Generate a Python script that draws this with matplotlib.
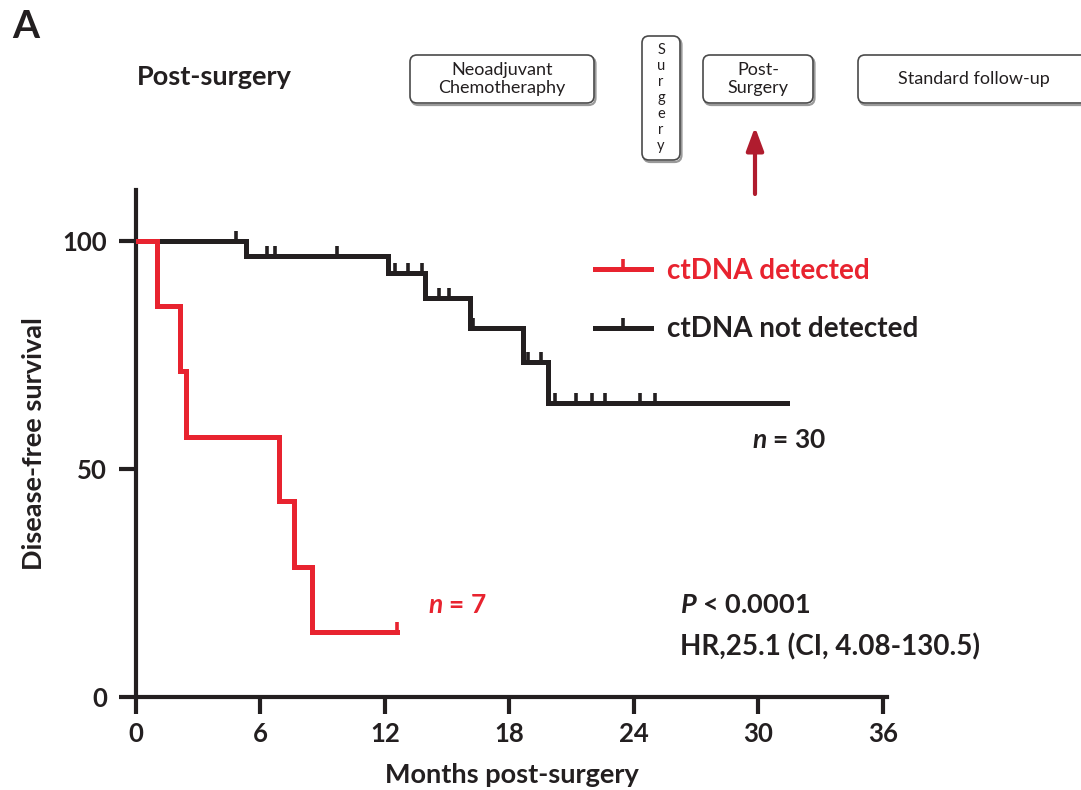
import numpy as np
import matplotlib
matplotlib.use("Agg")
import matplotlib.pyplot as plt
from matplotlib.lines import Line2D
from matplotlib.patches import FancyBboxPatch, FancyArrowPatch

plt.rcParams["font.family"] = ["Lato", "DejaVu Sans"]
plt.rcParams["mathtext.fontset"] = "custom"
plt.rcParams["mathtext.it"] = "Lato:italic:bold"
plt.rcParams["mathtext.rm"] = "Lato:bold"

# Kaplan-Meier steps (months, % disease-free)
detected_times = [0, 1.0, 2.1, 2.4, 6.9, 7.6, 8.5]
detected_surv = [100, 85.7, 71.4, 57.1, 42.9, 28.6, 14.3]
detected_end = 12.6
detected_censor = [12.6]

notdet_times = [0, 5.3, 12.15, 13.95, 16.1, 18.65, 19.85]
notdet_surv = [100, 96.7, 93.0, 87.6, 80.9, 73.4, 64.4]
notdet_end = 31.4
notdet_censor = [4.8, 6.3, 6.7, 9.7, 12.5, 13.1, 13.8, 14.6, 15.1, 16.25,
                 18.9, 19.5, 20.2, 21.2, 22.0, 22.6, 24.3, 25.0]

x_ticks = [0, 6, 12, 18, 24, 30, 36]
y_ticks = [0, 50, 100]

RED = "#e8232f"
INK = "#231f20"
ARROW = "#b01c2e"


def censor_levels(times, surv, censor):
    idx = np.searchsorted(times, censor, side="right") - 1
    return np.asarray(surv)[idx]


def draw_curve(ax, times, surv, end, censor, color, z):
    xs = list(times) + [end]
    ys = list(surv) + [surv[-1]]
    ax.step(xs, ys, where="post", color=color, lw=3.6, zorder=z,
            solid_joinstyle="miter")
    ax.plot(censor, censor_levels(times, surv, censor), ls="none",
            marker=2, ms=7, mew=2.6, color=color, zorder=z)


fig = plt.figure(figsize=(10.81, 7.9), dpi=100)

# overlay in pixel units for the header diagram
ov = fig.add_axes([0, 0, 1, 1])
ov.set_xlim(0, 1081)
ov.set_ylim(790, 0)
ov.axis("off")


def box(x0, y0, x1, y1, txt, fs=13, ls=1.1):
    shadow = FancyBboxPatch((x0 + 1.5, y0 + 2), x1 - x0, y1 - y0,
                            boxstyle="round,pad=0,rounding_size=7",
                            fc="none", ec="#9a9a9a", lw=1.6, zorder=1)
    ov.add_patch(shadow)
    p = FancyBboxPatch((x0, y0), x1 - x0, y1 - y0,
                       boxstyle="round,pad=0,rounding_size=7",
                       fc="white", ec="#4a4a4a", lw=1.2, zorder=2)
    ov.add_patch(p)
    ov.text((x0 + x1) / 2, (y0 + y1) / 2, txt, ha="center", va="center",
            fontsize=fs, color=INK, linespacing=ls, zorder=3)


box(410, 55, 594, 103, "Neoadjuvant\nChemotheraphy")
box(642, 36, 680, 160, "S\nu\nr\ng\ne\nr\ny", fs=10.5, ls=1.17)
box(703, 55, 813, 103, "Post-\nSurgery")
box(858, 55, 1090, 103, "Standard follow-up")

ov.add_patch(FancyArrowPatch((755, 194), (755, 127),
                             arrowstyle="-|>,head_width=2.6,head_length=7",
                             color=ARROW, lw=3, mutation_scale=2,
                             shrinkA=0, shrinkB=0))

ov.text(12, 27, "A", fontsize=28, fontweight="bold", color=INK,
        ha="left", va="center")
ov.text(137, 77, "Post-surgery", fontsize=19.5, fontweight="bold", color=INK,
        ha="left", va="center")

# survival plot
ax = fig.add_axes([136 / 1081, 1 - 697 / 790, 751 / 1081, 507 / 790])
ax.patch.set_alpha(0)
draw_curve(ax, notdet_times, notdet_surv, notdet_end, notdet_censor, INK, 3)
draw_curve(ax, detected_times, detected_surv, detected_end, detected_censor,
           RED, 4)

ax.set_xlim(0, 36.2)
ax.set_ylim(0, 111.2)
ax.set_xticks(x_ticks)
ax.set_yticks(y_ticks)
for s in ["top", "right"]:
    ax.spines[s].set_visible(False)
for s in ["left", "bottom"]:
    ax.spines[s].set_linewidth(3)
    ax.spines[s].set_color(INK)
ax.tick_params(length=12, width=3, color=INK, labelsize=18.5,
               labelcolor=INK)
ax.tick_params(axis="x", pad=6)
ax.tick_params(axis="y", pad=9)
for lab in ax.get_xticklabels() + ax.get_yticklabels():
    lab.set_fontweight("bold")
ax.set_xlabel("Months post-surgery", fontsize=19.5, fontweight="bold",
              color=INK, labelpad=12)
ax.set_ylabel("Disease-free survival", fontsize=19.5, fontweight="bold",
              color=INK, labelpad=12)

handles = [
    Line2D([], [], color=RED, lw=3.6, marker=2, ms=7, mew=2.6),
    Line2D([], [], color=INK, lw=3.6, marker=2, ms=7, mew=2.6),
]
leg = ax.legend(handles, ["ctDNA detected", "ctDNA not detected"],
                loc="upper left", bbox_to_anchor=(595 / 1081, 1 - 258 / 790),
                bbox_transform=fig.transFigure, frameon=False, borderpad=0,
                borderaxespad=0, handlelength=2.0, handletextpad=0.6,
                labelspacing=1.16, numpoints=1,
                prop={"size": 20, "weight": "bold"})
leg.get_texts()[0].set_color(RED)
leg.get_texts()[1].set_color(INK)

ov.text(752, 440, "$n$ = 30", fontsize=19, fontweight="bold", color=INK,
        ha="left", va="center")
ov.text(428, 605, "$n$ = 7", fontsize=19, fontweight="bold", color=RED,
        ha="left", va="center")
ov.text(680, 605, "$P$ < 0.0001", fontsize=19.5, fontweight="bold", color=INK,
        ha="left", va="center")
ov.text(680, 647, "HR,25.1 (CI, 4.08-130.5)", fontsize=20,
        fontweight="bold", color=INK, ha="left", va="center")

fig.savefig("out.png", dpi=100)
